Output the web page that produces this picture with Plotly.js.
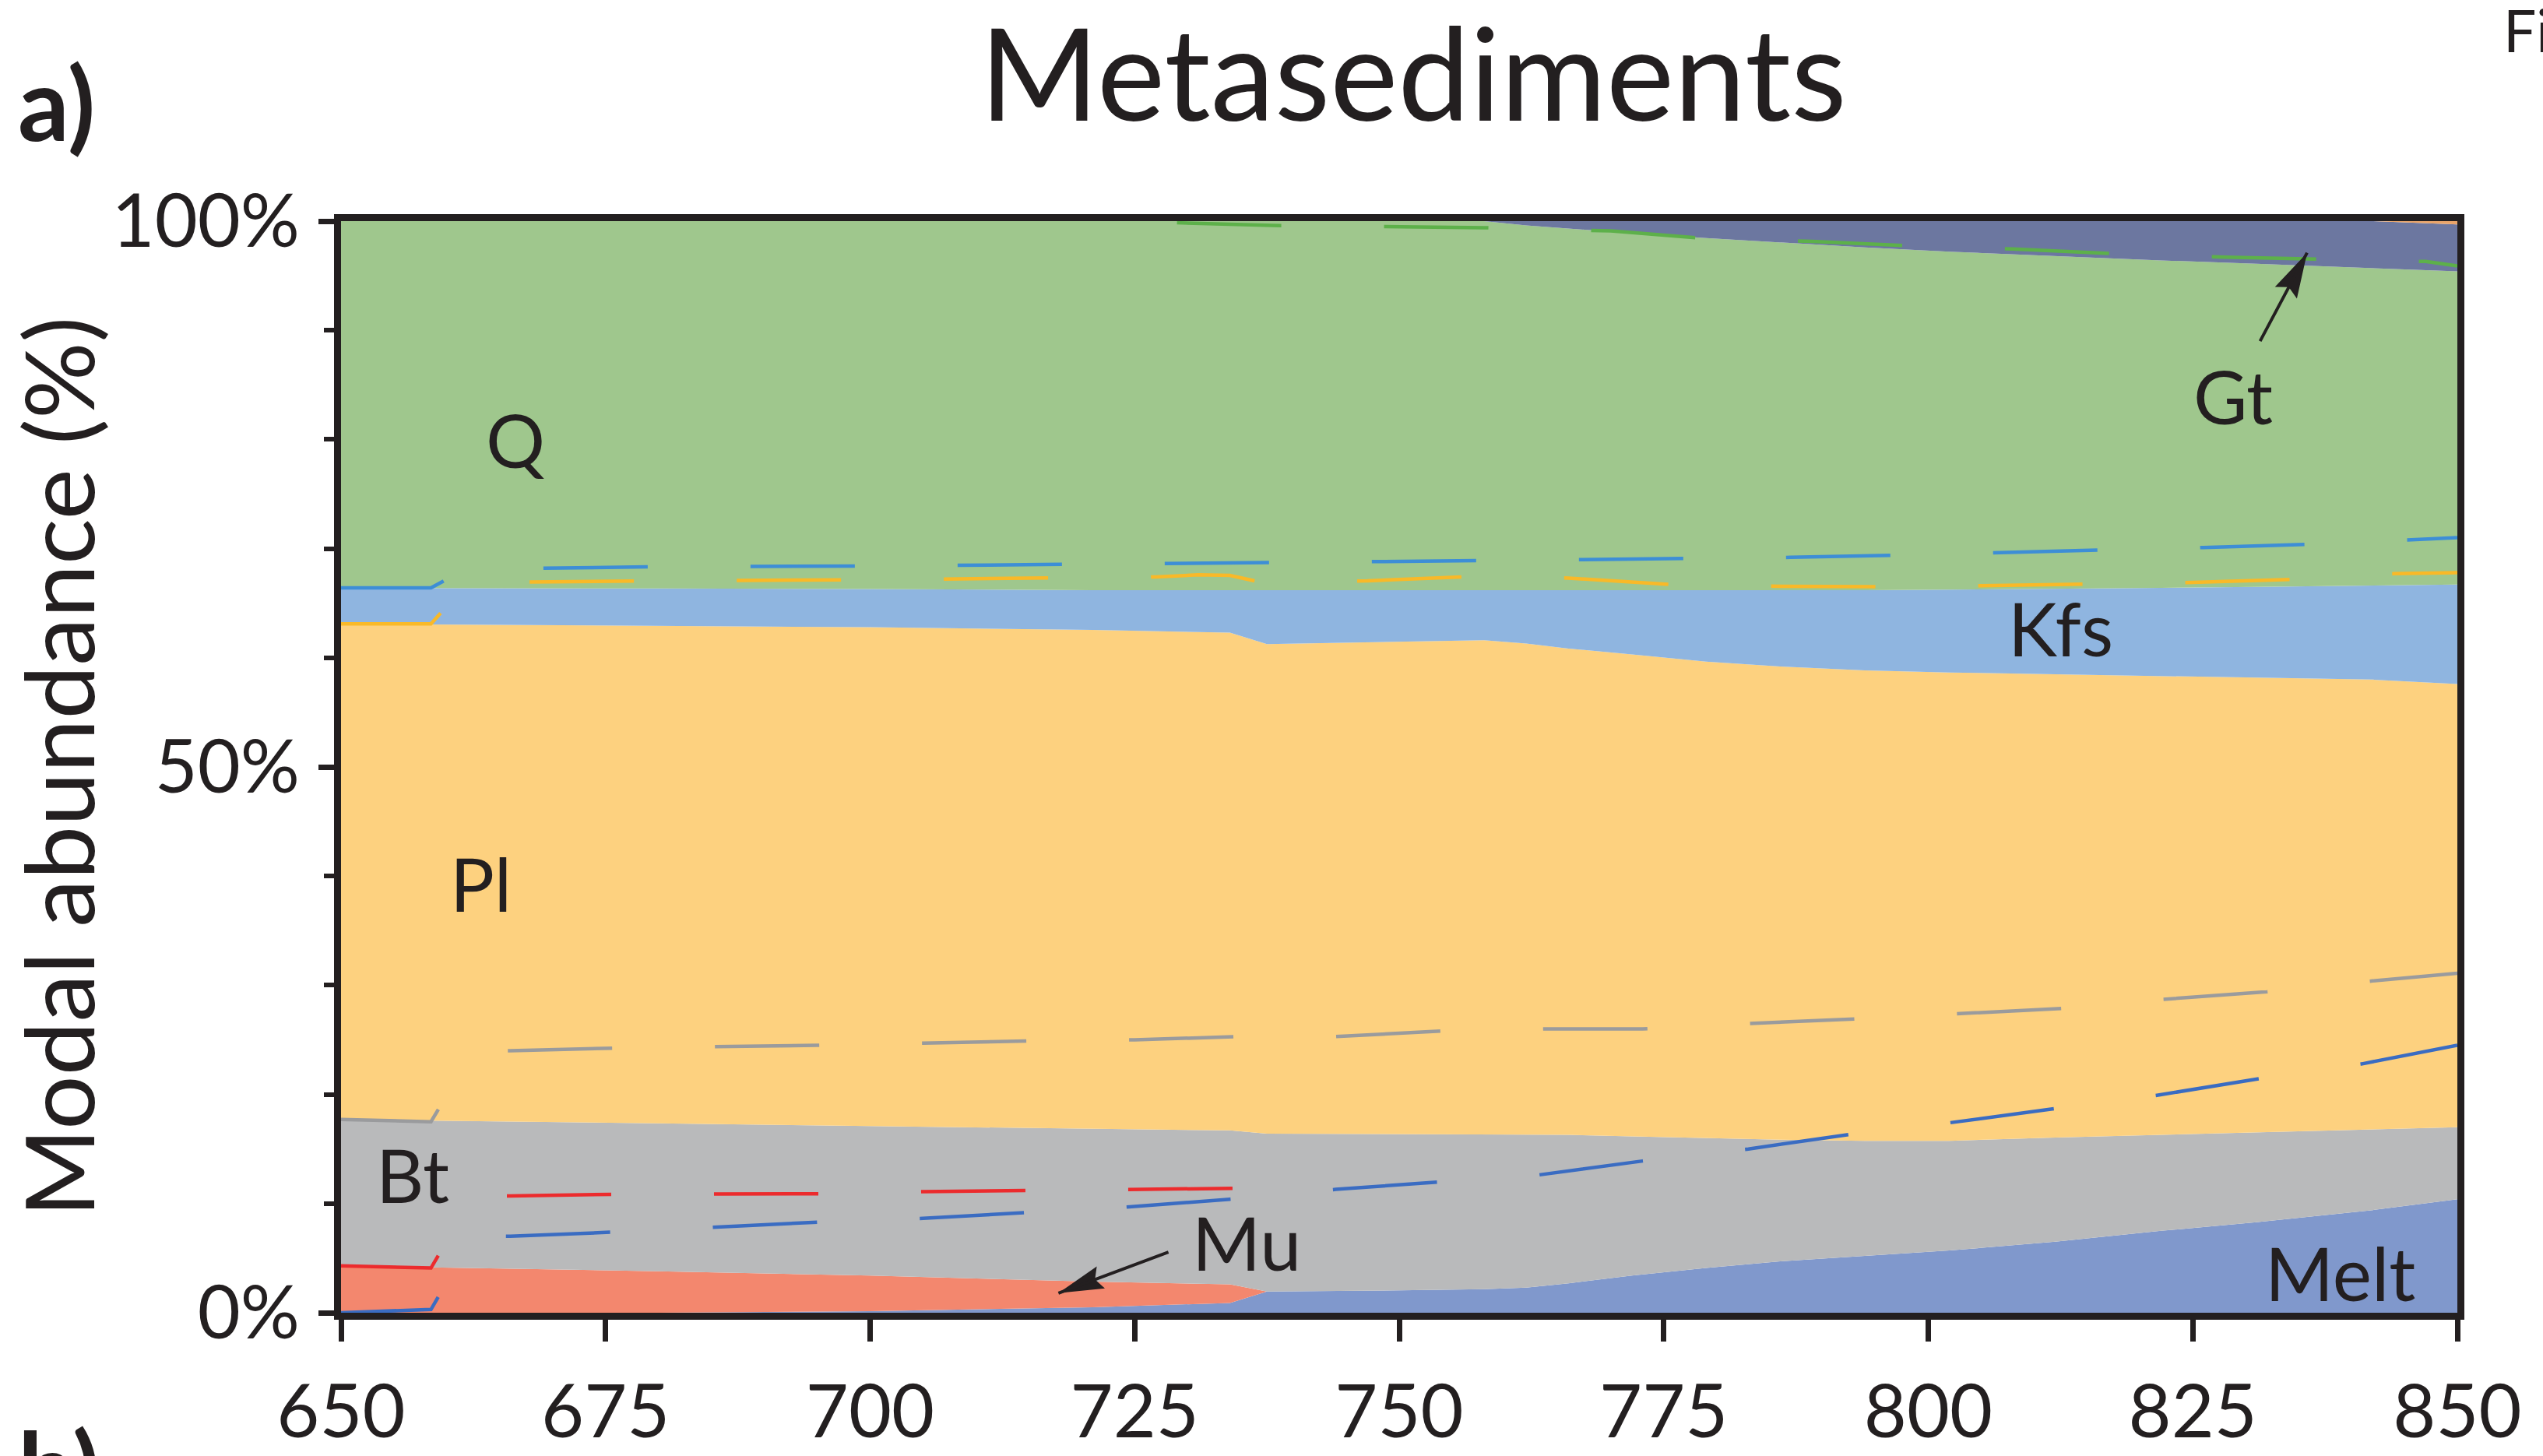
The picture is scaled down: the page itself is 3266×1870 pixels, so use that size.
<!DOCTYPE html>
<html>
<head>
<meta charset="utf-8">
<script src="https://cdn.plot.ly/plotly-3.0.1.min.js"></script>
<style>
  html, body { margin: 0; padding: 0; background: #ffffff; }
  #chart { width: 3266px; height: 1870px; }
</style>
</head>
<body>
<div id="chart"></div>
<script>
// ---------- Data (modal abundance, %) ----------
const temperature = [650, 660, 680, 700, 721, 734, 737.5, 750, 758, 762, 766, 772, 779, 786, 794, 802, 812, 822, 831, 842, 850];

const melt  = [0, 0, 0, 0.15, 0.5, 0.9, 1.95, 2.05, 2.15, 2.3, 2.7, 3.4, 4.1, 4.7, 5.2, 5.7, 6.5, 7.5, 8.3, 9.4, 10.4];
const mu    = [4.3, 4.15, 3.8, 3.25, 2.35, 1.7, 0, 0, 0, 0, 0, 0, 0, 0, 0, 0, 0, 0, 0, 0, 0];
const bt    = [13.4, 13.45, 13.55, 13.7, 14.0, 14.1, 14.45, 14.3, 14.2, 14.05, 13.6, 12.75, 11.9, 11.15, 10.55, 10.05, 9.55, 8.8, 8.2, 7.35, 6.6];
const pl    = [45.4, 45.45, 45.6, 45.7, 45.7, 45.6, 44.85, 45.1, 45.25, 44.95, 44.55, 44.15, 43.65, 43.35, 43.1, 42.9, 42.45, 42.0, 41.7, 41.25, 40.6];
const kfs   = [3.3, 3.35, 3.4, 3.5, 3.65, 3.9, 4.95, 4.7, 4.55, 4.85, 5.3, 5.85, 6.5, 6.95, 7.35, 7.6, 7.8, 8.1, 8.3, 8.6, 9.1];
const q     = [33.6, 33.6, 33.65, 33.7, 33.8, 33.8, 33.8, 33.85, 33.85, 33.45, 33.15, 32.75, 32.3, 31.9, 31.4, 30.95, 30.5, 30.0, 29.6, 29.1, 28.7];
const gt    = [0, 0, 0, 0, 0, 0, 0, 0, 0, 0.4, 0.7, 1.1, 1.55, 1.95, 2.4, 2.8, 3.2, 3.6, 3.9, 4.3, 4.3];
const other = [0, 0, 0, 0, 0, 0, 0, 0, 0, 0, 0, 0, 0, 0, 0, 0, 0, 0, 0, 0, 0.3];

// Dashed cumulative boundaries of the comparison model
const meltAltT = [650, 658.5, 662.5, 666, 676, 685, 695, 705, 715, 724.5, 734, 744, 754, 763, 773, 783, 793, 802, 812, 821.5, 831, 841, 850];
const meltAlt  = [0, 0.3, 7.0, 7.0, 7.4, 7.8, 8.3, 8.65, 9.2, 9.7, 10.4, 11.3, 12.0, 12.6, 13.9, 15.0, 16.4, 17.4, 18.7, 19.9, 21.4, 22.8, 24.5];

const muAltT = [650, 658.5, 662.5, 666, 676, 686, 696, 705, 715, 725, 735];
const muAlt  = [4.3, 4.1, 10.7, 10.7, 10.85, 10.85, 10.9, 11.1, 11.2, 11.3, 11.4];

const btAltT = [650, 658.5, 662.5, 666, 676, 686, 695, 705, 715, 725, 735, 744, 754, 764, 773, 783, 793, 803, 813, 822, 832, 842, 850];
const btAlt  = [17.7, 17.5, 24.0, 24.0, 24.25, 24.35, 24.5, 24.7, 24.9, 25.0, 25.3, 25.3, 25.8, 26.0, 26.0, 26.5, 26.9, 27.4, 27.9, 28.7, 29.4, 30.4, 31.1];

const plAltT = [650, 658.5, 662, 667, 680, 700, 720, 727, 731, 734, 737, 747, 756, 760, 766, 776, 786, 796, 805, 815, 825, 835, 844, 850];
const plAlt  = [63.1, 63.1, 66.9, 66.95, 67.05, 67.15, 67.35, 67.4, 67.6, 67.55, 66.9, 67.05, 67.4, 67.45, 67.3, 66.7, 66.55, 66.5, 66.6, 66.75, 66.9, 67.2, 67.7, 67.8];

const kfsAltT = [650, 658.5, 661.7, 670, 680, 700, 720, 738, 758, 777, 787, 797, 806, 816, 826, 836, 850];
const kfsAlt  = [66.4, 66.4, 68.1, 68.2, 68.35, 68.4, 68.55, 68.7, 68.9, 69.1, 69.2, 69.4, 69.6, 69.9, 70.1, 70.4, 71.0];

// visible part of the upper (quartz) dashed boundary
const qAltT = [729, 738, 748, 758, 770, 779, 789, 799, 808, 818, 828, 838, 847, 850];
const qAlt  = [99.85, 99.6, 99.5, 99.4, 99.1, 98.4, 98.15, 97.7, 97.45, 97.0, 96.7, 96.45, 96.3, 95.9];

const xTickVals = [650, 675, 700, 725, 750, 775, 800, 825, 850];
const yTickVals = [0, 50, 100];
const yTickText = ['0%', '50%', '100%'];

// ---------- Styles ----------
const INK = '#231f20';
const FONT = 'Lato, "Open Sans", sans-serif';
const fills = {
  melt: '#8098cc', mu: '#f3876e', bt: '#b9babb', pl: '#fdd17f',
  kfs: '#8fb5e0', q: '#9fc78d', gt: '#6c77a0', other: '#e9a46a'
};
const DASH = '134px,132px';

function area(name, values, color) {
  return {
    type: 'scatter', name: name, x: temperature, y: values,
    stackgroup: 'modal', mode: 'lines',
    line: { width: 0, color: color, shape: 'linear' },
    fillcolor: color, hoverinfo: 'x+y+name', showlegend: false
  };
}
function dashed(name, xs, ys, color) {
  return {
    type: 'scatter', name: name, x: xs, y: ys, mode: 'lines',
    line: { color: color, width: 4.5, dash: DASH },
    hoverinfo: 'skip', showlegend: false
  };
}

const traces = [
  area('Melt', melt, fills.melt),
  area('Mu', mu, fills.mu),
  area('Bt', bt, fills.bt),
  area('Pl', pl, fills.pl),
  area('Kfs', kfs, fills.kfs),
  area('Q', q, fills.q),
  area('Gt', gt, fills.gt),
  area('Other', other, fills.other),
  dashed('Melt (alt)', meltAltT, meltAlt, '#3a6cc2'),
  dashed('Mu (alt)', muAltT, muAlt, '#ec2b2d'),
  dashed('Bt (alt)', btAltT, btAlt, '#9a9b9d'),
  dashed('Pl (alt)', plAltT, plAlt, '#f9b928'),
  dashed('Kfs (alt)', kfsAltT, kfsAlt, '#3d8ed6'),
  dashed('Q (alt)', qAltT, qAlt, '#5db04a')
];

function label(text, x, y) {
  return { text: text, x: x, y: y, xref: 'x', yref: 'y', showarrow: false,
           xanchor: 'center', yanchor: 'middle', font: { family: FONT, size: 95, color: INK } };
}

const annotations = [
  label('Q', 666.5, 80.0),
  label('Kfs', 812.5, 62.8),
  label('Pl', 663.2, 39.4),
  label('Bt', 656.8, 12.7),
  label('Mu', 735.6, 6.5),
  label('Melt', 838.9, 3.7),
  label('Gt', 828.8, 84.0),
  // arrows (line part)
  { x: 835.8, y: 97.1, ax: 831.3, ay: 88.9, xref: 'x', yref: 'y', axref: 'x', ayref: 'y',
    text: '', showarrow: true, arrowhead: 0, arrowwidth: 4, arrowcolor: INK },
  { x: 717.8, y: 1.8, ax: 728.3, ay: 5.6, xref: 'x', yref: 'y', axref: 'x', ayref: 'y',
    text: '', showarrow: true, arrowhead: 0, arrowwidth: 4, arrowcolor: INK },
  // panel letters and cut-off caption
  { text: '<b>a)</b>', xref: 'paper', yref: 'paper', x: -0.1534, y: 1.109, xanchor: 'left', yanchor: 'middle',
    showarrow: false, font: { family: FONT, size: 130, color: INK } },
  { text: '<b>b)</b>', xref: 'paper', yref: 'paper', x: -0.1534, y: -0.084, xanchor: 'left', yanchor: 'top',
    showarrow: false, font: { family: FONT, size: 130, color: INK } },
  { text: 'Figure', xref: 'paper', yref: 'paper', x: 1.021, y: 1.1755, xanchor: 'left', yanchor: 'middle',
    showarrow: false, font: { family: FONT, size: 75, color: INK } }
];

const shapes = [
  // arrowheads (pixel-sized paths anchored at the tips)
  { type: 'path', xref: 'x', yref: 'y', xsizemode: 'pixel', ysizemode: 'pixel',
    xanchor: 835.8, yanchor: 97.1,
    path: 'M0,0 L-13.1,-58.8 L-23.5,-44.2 L-41.3,-43.8 Z',
    fillcolor: INK, line: { width: 0 } },
  { type: 'path', xref: 'x', yref: 'y', xsizemode: 'pixel', ysizemode: 'pixel',
    xanchor: 717.8, yanchor: 1.8,
    path: 'M0,0 L59.6,6.1 L46.9,17.4 L49.2,34.3 Z',
    fillcolor: INK, line: { width: 0 } }
];

const layout = {
  width: 3266, height: 1870,
  margin: { l: 438, r: 110, t: 284, b: 184, pad: 0 },
  paper_bgcolor: '#ffffff', plot_bgcolor: '#ffffff',
  showlegend: false,
  font: { family: FONT, color: INK },
  title: { text: 'Metasediments', font: { family: FONT, size: 165, color: INK },
           xref: 'container', yref: 'container', x: 1815 / 3266, xanchor: 'center',
           y: 0.948, yanchor: 'middle' },
  xaxis: {
    range: [650, 850], tickmode: 'array', tickvals: xTickVals,
    ticks: 'outside', ticklen: 28, tickwidth: 7, tickcolor: INK,
    showline: true, linewidth: 9, linecolor: INK, mirror: true,
    showgrid: false, zeroline: false,
    tickfont: { family: FONT, size: 95, color: INK }, ticklabelstandoff: 9,
    fixedrange: true
  },
  yaxis: {
    range: [0, 100], tickmode: 'array', tickvals: yTickVals, ticktext: yTickText,
    ticks: 'outside', ticklen: 20, tickwidth: 7, tickcolor: INK,
    minor: { dtick: 10, tick0: 0, ticks: 'outside', ticklen: 13, tickwidth: 6, tickcolor: INK, showgrid: false },
    showline: true, linewidth: 9, linecolor: INK, mirror: true,
    showgrid: false, zeroline: false,
    tickfont: { family: FONT, size: 95, color: INK }, ticklabelstandoff: 5,
    title: { text: 'Modal abundance (%)', font: { family: FONT, size: 123, color: INK }, standoff: 10 },
    fixedrange: true
  },
  annotations: annotations,
  shapes: shapes
};

Plotly.newPlot('chart', traces, layout, { staticPlot: true, displayModeBar: false });
</script>
</body>
</html>
